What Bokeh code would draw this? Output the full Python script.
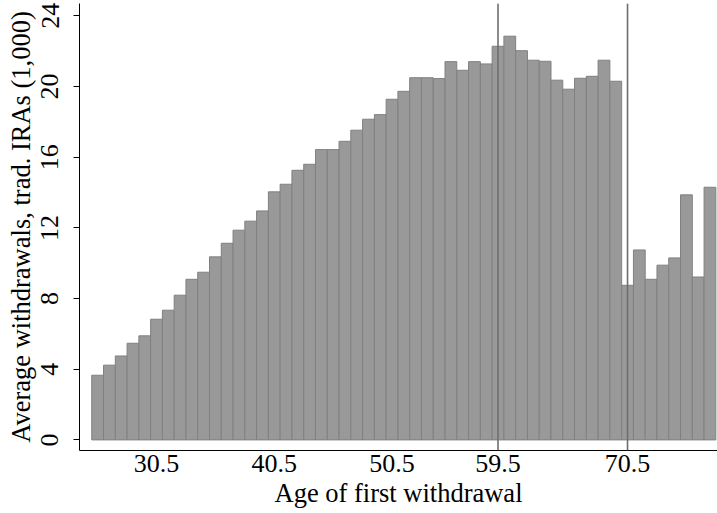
from bokeh.plotting import figure
from bokeh.models import FixedTicker, Span, Range1d, ColumnDataSource
from bokeh.embed import file_html
from bokeh.resources import INLINE

ages = [25.5, 26.5, 27.5, 28.5, 29.5, 30.5, 31.5, 32.5, 33.5, 34.5,
        35.5, 36.5, 37.5, 38.5, 39.5, 40.5, 41.5, 42.5, 43.5, 44.5,
        45.5, 46.5, 47.5, 48.5, 49.5, 50.5, 51.5, 52.5, 53.5, 54.5,
        55.5, 56.5, 57.5, 58.5, 59.5, 60.5, 61.5, 62.5, 63.5, 64.5,
        65.5, 66.5, 67.5, 68.5, 69.5, 70.5, 71.5, 72.5, 73.5, 74.5,
        75.5, 76.5, 77.5]
avg_withdrawals = [3.66, 4.23, 4.75, 5.47, 5.89, 6.83, 7.34, 8.19, 9.09, 9.49,
                   10.36, 11.13, 11.87, 12.38, 12.96, 14.04, 14.47, 15.26, 15.60, 16.43,
                   16.43, 16.90, 17.53, 18.15, 18.41, 19.28, 19.73, 20.50, 20.50, 20.45,
                   21.41, 20.92, 21.41, 21.28, 22.28, 22.85, 22.03, 21.49, 21.43, 20.36,
                   19.85, 20.47, 20.58, 21.49, 20.30, 8.75, 10.75, 9.09, 9.89, 10.30,
                   13.87, 9.22, 14.30]
x_ticks = [30.5, 40.5, 50.5, 59.5, 70.5]
y_ticks = [0, 4, 8, 12, 16, 20, 24]
ref_lines = [59.5, 70.5]

FONT = "'Liberation Serif', 'Times New Roman', Times, serif"

p = figure(width=717, height=513, output_backend="svg", toolbar_location=None,
           x_range=Range1d(23.96, 78.14), y_range=Range1d(-0.6, 24.7),
           min_border_left=79, min_border_right=0, min_border_top=3,
           min_border_bottom=63)
p.outline_line_color = None
p.xgrid.visible = False
p.ygrid.visible = False
p.background_fill_color = "white"
p.border_fill_color = "white"

src = ColumnDataSource(dict(x=ages, top=avg_withdrawals))
p.vbar(x="x", top="top", bottom=0, width=1.0, source=src,
       fill_color="#999999", line_color="#808080", line_width=1)

for v in ref_lines:
    p.add_layout(Span(location=v, dimension="height", line_color="#6e6e6e",
                      line_width=1.6))

xa = p.xaxis[0]
xa.ticker = FixedTicker(ticks=x_ticks)
xa.major_label_overrides = {t: f"{t:.1f}" for t in x_ticks}
xa.minor_tick_line_color = None
xa.major_tick_out = 0
xa.major_tick_in = 0
xa.major_label_standoff = 4
xa.axis_label = "Age of first withdrawal"
xa.axis_label_standoff = 3
xa.axis_line_color = "black"

ya = p.yaxis[0]
ya.ticker = FixedTicker(ticks=y_ticks)
ya.minor_tick_line_color = None
ya.major_tick_out = 6
ya.major_tick_in = 0
ya.major_label_orientation = "vertical"
ya.major_label_standoff = 15
ya.axis_label = "Average withdrawals, trad. IRAs (1,000)"
ya.axis_label_standoff = 3
ya.axis_line_color = "black"

for ax in (xa, ya):
    ax.major_label_text_font = FONT
    ax.major_label_text_font_size = "26px"
    ax.major_label_text_color = "black"
    ax.axis_label_text_font = FONT
    ax.axis_label_text_font_size = "26.5px"
    ax.axis_label_text_font_style = "normal"
    ax.axis_label_text_color = "black"
    ax.major_tick_line_color = "black"

open("out.html", "w").write(file_html(p, INLINE))
